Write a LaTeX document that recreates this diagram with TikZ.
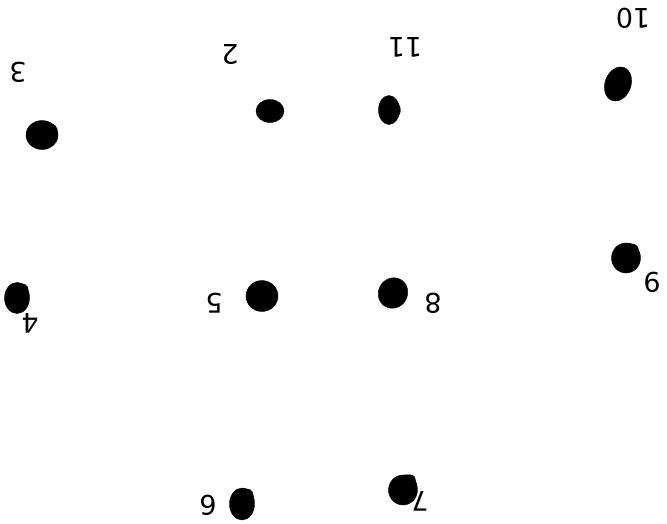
\documentclass[tikz,border=0pt]{standalone}
\usepackage{fontspec}
\setmainfont{DejaVu Sans}
\usetikzlibrary{shapes.geometric}
\tikzset{
  blob/.style={ellipse, fill=black, draw=black, inner sep=0pt},
  tip/.style={fill=black, draw=black, line join=round, rounded corners=2pt},
  lab/.style={font=\fontsize{27}{27}\selectfont, rotate=180, inner sep=0pt}
}
\begin{document}
\begin{tikzpicture}[x=1pt,y=-1pt]
\useasboundingbox (0,0) rectangle (667,523);
% blobs
\node[blob, minimum width=26pt, minimum height=35pt, rotate=-20] (n10) at (618,84) {};
\node[blob, minimum width=21pt, minimum height=29pt] (n11) at (389,110) {};
\node[blob, minimum width=28pt, minimum height=23pt] (n2) at (270,111) {};
\node[blob, minimum width=32pt, minimum height=29pt] (n3) at (42,135) {};
\node[blob, minimum width=25pt, minimum height=31pt] (n4) at (17,298) {};
\node[blob, minimum width=32pt, minimum height=31pt] (n5) at (262,296) {};
\node[blob, minimum width=29pt, minimum height=31pt, rotate=-30] (n8) at (393,293) {};
\node[blob, minimum width=29pt, minimum height=30pt] (n9) at (626,258) {};
\node[blob, minimum width=25pt, minimum height=32pt] (n6) at (242,504) {};
\node[blob, minimum width=29pt, minimum height=30pt] (n7) at (403,490) {};
% pointed corners
\fill[tip] (n11.45) -- (401,110) -- (n11.-45) -- cycle;
\fill[tip] (n3.65) -- (57,127) -- (n3.-15) -- cycle;
\fill[tip] (n7.90) -- (414,475) -- (n7.10) -- cycle;
\fill[tip] (n9.88) -- (637,245) -- (n9.6) -- cycle;
\fill[tip] (n4.90) -- (27,285) -- (n4.8) -- cycle;
\fill[tip] (n6.92) -- (252,490) -- (n6.10) -- cycle;
% labels (picture is upside down)
\node[lab] (l10) at (633,18) {10};
\node[lab] (l11) at (405,47) {11};
\node[lab] (l2) at (230,55) {2};
\node[lab] (l3) at (18,72) {3};
\node[lab] (l4) at (30,323) {4};
\node[lab] (l5) at (214,303) {5};
\node[lab] (l8) at (433,303) {8};
\node[lab] (l9) at (652,282) {9};
\node[lab] (l6) at (208,505) {6};
\node[lab] (l7) at (420,501) {7};
\end{tikzpicture}
\end{document}
